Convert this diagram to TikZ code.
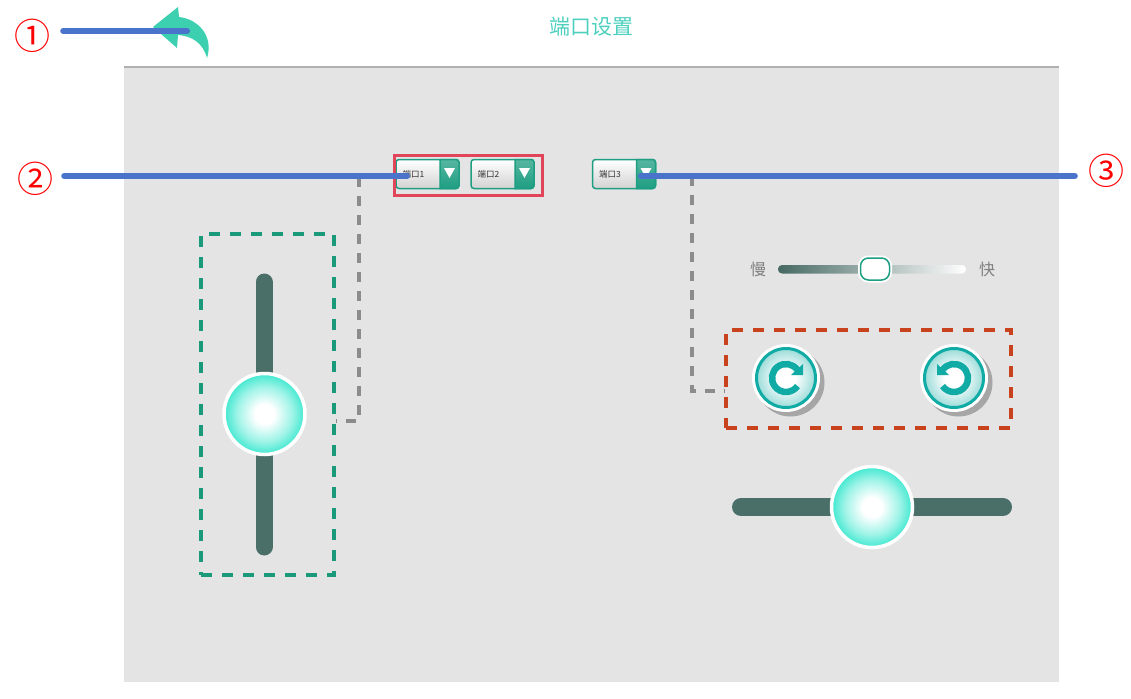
\documentclass[tikz,border=0pt]{standalone}
\usepackage{fontspec}
\setmainfont{Noto Sans CJK SC}
\usetikzlibrary{arrows.meta,calc,positioning}
\definecolor{panelgray}{HTML}{E4E4E4}
\definecolor{panelline}{HTML}{B0B0B0}
\definecolor{titlecol}{HTML}{4DD0BE}
\definecolor{backcol}{HTML}{3CCFB0}
\definecolor{leadcol}{HTML}{4A74CC}
\definecolor{portline}{HTML}{1E9E82}
\definecolor{barcol}{HTML}{4A6F68}
\definecolor{knobrim}{HTML}{3FE8D0}
\definecolor{greenbox}{HTML}{1A9A7A}
\definecolor{orangebox}{HTML}{C8421E}
\definecolor{redbox}{HTML}{E0455A}
\definecolor{linkgray}{HTML}{8C8C8C}
\definecolor{btnteal}{HTML}{10ABA4}
\pgfdeclareradialshading{knobglow}{\pgfpoint{0bp}{0bp}}{color(0bp)=(white);color(6bp)=(white);color(17bp)=(knobrim!50!white);color(25bp)=(knobrim);color(50bp)=(knobrim)}
\pgfdeclareradialshading{btnglow}{\pgfpoint{0bp}{0bp}}{color(0bp)=(white);color(8bp)=(white);color(25bp)=(btnteal!42!white);color(50bp)=(btnteal!42!white)}
\tikzset{
  numlabel/.style={text=red,font=\fontsize{36}{36}\selectfont,inner sep=0pt,minimum width=62pt},
  leadline/.style={leadcol,line width=6pt,line cap=round},
  linkline/.style={linkgray,line width=3.5pt,dash pattern=on 10pt off 9pt},
  portbox/.style={draw=portline,line width=1.5pt,rounded corners=3pt,outer sep=0pt,top color=white,bottom color=gray!35,minimum width=63pt,minimum height=29pt,text width=50pt,inner xsep=6.5pt,inner ysep=0pt,align=left,font=\fontsize{8.5}{9}\selectfont,text=black!80},
  knob/.style={circle,draw=white,line width=3.5pt,shade,shading=knobglow,minimum size=81pt,inner sep=0pt},
  turnbtn/.style={circle,minimum size=59pt,inner sep=0pt,draw=btnteal,line width=3pt,preaction={draw=white,line width=9pt},shade,shading=btnglow},
  speedtxt/.style={text=gray,font=\fontsize{16}{16}\selectfont,inner sep=0pt}
}
\begin{document}
\begin{tikzpicture}[x=1pt,y=-1pt]
\useasboundingbox (0,0) rectangle (1131,698);
\fill[panelgray] (124,67) rectangle (1059,682);
\draw[panelline,line width=2pt] (124,67) -- (1059,67);
\node[text=titlecol,font=\fontsize{21}{21}\selectfont,inner sep=0pt] (title) at (591,27) {端口设置};
\fill[backcol] (153,27) -- (178,7) -- (179,17) .. controls (198,19) and (214,36) .. (207,58) .. controls (203,43) and (192,36) .. (178,35) -- (177,48) -- cycle;
\coordinate (backtip) at (187,31);
% ports
\foreach \n/\x/\t in {port1/427.5/端口1,port2/502.5/端口2,port3/624/端口3}{
  \node[portbox] (\n) at (\x,174) {\t};
  \draw[portline,line width=1.5pt,top color=portline!75,bottom color=portline] ([xshift=-19pt]\n.north east) [rounded corners=3pt] -- (\n.north east) -- (\n.south east) [sharp corners] -- ([xshift=-19pt]\n.south east) -- cycle;
  \fill[white] ([xshift=-15pt,yshift=6pt]\n.east) -- ([xshift=-4pt,yshift=6pt]\n.east) -- ([xshift=-9.5pt,yshift=-4pt]\n.east) -- cycle;
}
\node[draw=redbox,line width=3pt,minimum width=148pt,minimum height=40pt,inner sep=0pt] (portgroup) at (468,175) {};
% left slider
\node[draw=greenbox,line width=3.5pt,dash pattern=on 11pt off 10pt,minimum width=133pt,minimum height=341pt,inner sep=0pt] (sliderbox) at (267.5,404.5) {};
\draw[barcol,line width=17pt,line cap=round] (264,282) -- (264,547);
\node[knob] (knobv) at (264.5,414) {};
% speed
\node[speedtxt] (slow) at (758,269) {慢};
\node[speedtxt] (fast) at (987,269) {快};
\path[rounded corners=4pt,left color=barcol!95!black,right color=white] (778,265) rectangle (966,273.5);
\node[draw=portline,line width=1.5pt,fill=white,rounded corners=8pt,minimum width=29pt,minimum height=22pt,inner sep=0pt,preaction={draw=white,line width=5pt}] (thumb) at (875,269) {};
% turn buttons
\node[draw=orangebox,line width=3.5pt,dash pattern=on 11pt off 10pt,minimum width=285pt,minimum height=98pt,inner sep=0pt] (turnbox) at (868.5,379) {};
\foreach \b/\x/\s in {cw/786/1,ccw/954/-1}{
  \fill[gray!70] (\x+4.5,382.5) circle[radius=34];
  \node[turnbtn] (\b) at (\x,378) {};
  \begin{scope}[shift={(\x,378)},xscale=\s]
    \draw[btnteal,line width=6.5pt] (-35:14) arc[start angle=-35,end angle=-325,radius=14];
    \fill[btnteal] (17,-14) -- (17,-3) -- (5,-3) -- cycle;
  \end{scope}
}
% lower slider
\draw[barcol,line width=18pt,line cap=round] (741,507) -- (1003,507);
\node[knob] (knobh) at (872,507) {};
% links
\coordinate (turnA) at (359,421);
\coordinate (tapB) at (692,176);
\coordinate (turnB) at (turnbox.west |- 0,391);
\coordinate (port1in) at (407,176);
\coordinate (port3in) at (641,176);
\draw[linkline] (port1.west |- port1in) -| (turnA) -- (turnA -| sliderbox.east);
\draw[linkline] (tapB) |- (turnB);
% leaders
\node[numlabel] (num1) at (32,36) {①};
\node[numlabel] (num2) at (35,179) {②};
\node[numlabel] (num3) at (1106,171) {③};
\draw[leadline] (num1.east |- backtip) -- (backtip);
\draw[leadline] ([xshift=-2pt]num2.east |- port1in) -- (port1in);
\draw[leadline] (port3in) -- (num3.west |- port3in);
\end{tikzpicture}
\end{document}
